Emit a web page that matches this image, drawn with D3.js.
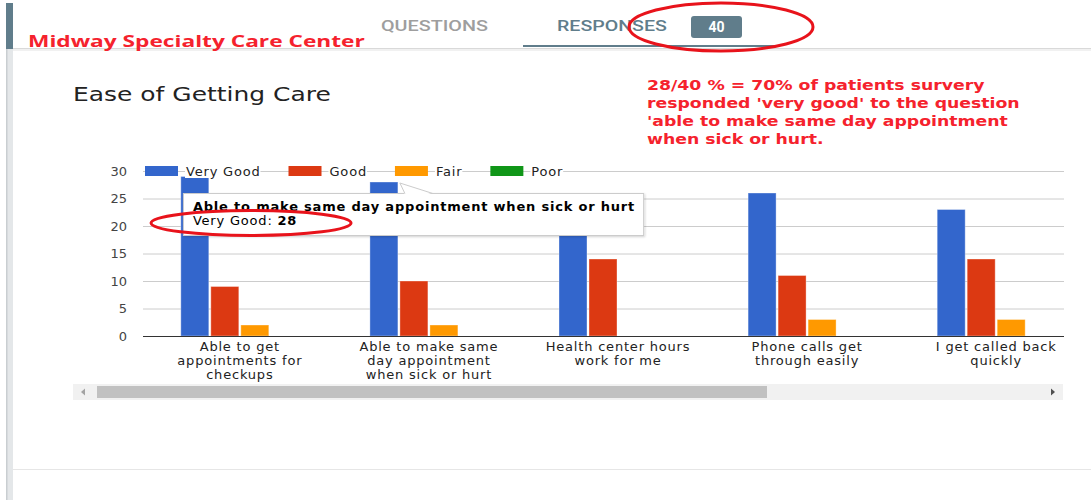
<!DOCTYPE html>
<html>
<head>
<meta charset="utf-8">
<script src="https://cdn.jsdelivr.net/npm/d3@7"></script>
<style>
  body { margin: 0; background: #fff; }
  svg { display: block; font-family: "DejaVu Sans", sans-serif; }
</style>
</head>
<body>
<div id="chart"></div>
<script>
// ---- data ----
const categories = [
  "Able to get appointments for checkups",
  "Able to make same day appointment when sick or hurt",
  "Health center hours work for me",
  "Phone calls get through easily",
  "I get called back quickly"
];
const seriesNames = ["Very Good", "Good", "Fair", "Poor"];
const veryGood = [29, 28, 26, 26, 23];
const good     = [9, 10, 14, 11, 14];
const fair     = [2, 2, 0, 3, 3];
const poor     = [0, 0, 0, 0, 0];
const yTicks = [0, 5, 10, 15, 20, 25, 30];

const chartTitle = "Ease of Getting Care";
const pageTitle = "Midway Specialty Care Center";
const tabs = ["QUESTIONS", "RESPONSES"];
const responseCount = 40;
const noteLines = [
  "28/40 % = 70% of patients survery",
  "responded 'very good' to the question",
  "'able to make same day appointment",
  "when sick or hurt."
];
const tipCategory = 1;   // hovered group
const tipSeries = 0;     // hovered series

const colors = ["#3366cc", "#dc3912", "#ff9900", "#109618"];
const values = [veryGood, good, fair, poor];

// ---- setup ----
const W = 1091, H = 500;
const svg = d3.select("#chart").append("svg")
  .attr("width", W)
  .attr("height", H);

const defs = svg.append("defs");
defs.append("filter").attr("id", "shadow")
  .attr("x", "-5%").attr("y", "-20%").attr("width", "110%").attr("height", "150%")
  .append("feDropShadow")
  .attr("dx", 1).attr("dy", 1).attr("stdDeviation", 1.2)
  .attr("flood-color", "#000").attr("flood-opacity", 0.18);

// fit a text block horizontally to a target width
function stretch(sel, x, target) {
  const w = sel.node().getBBox().width;
  sel.attr("transform", `translate(${x},0) scale(${target / w},1)`);
}

const LS = "0.8px";  // chart text is a bit wider than DejaVu

// ---- page chrome ----
svg.append("rect").attr("x", 6).attr("y", 49).attr("width", 7).attr("height", H - 49)
  .attr("fill", "#e4e7e9");
svg.append("rect").attr("x", 6).attr("y", 49).attr("width", 1.5).attr("height", H - 49)
  .attr("fill", "#c9ced1");
svg.append("rect").attr("x", 6).attr("y", 3).attr("width", 7).attr("height", 46)
  .attr("fill", "#607d8b");
svg.append("line").attr("x1", 13).attr("x2", W).attr("y1", 48.5).attr("y2", 48.5)
  .attr("stroke", "#d9d9d9");
svg.append("rect").attr("x", 13).attr("y", 49).attr("width", W - 13).attr("height", 2)
  .attr("fill", "#f1f1f1");
svg.append("line").attr("x1", 13).attr("x2", W).attr("y1", 469.5).attr("y2", 469.5)
  .attr("stroke", "#e6e6e6");

const tabG = svg.append("g").style("font-family", "Roboto, sans-serif")
  .style("font-weight", 500).style("font-size", "14px");
const q = tabG.append("g");
q.append("text").attr("y", 31).attr("fill", "#9e9e9e").text(tabs[0]);
stretch(q, 381, 107);
const r = tabG.append("g");
r.append("text").attr("y", 31).attr("fill", "#607d8b").text(tabs[1]);
stretch(r, 557, 110);
svg.append("rect").attr("x", 523).attr("y", 45).attr("width", 254).attr("height", 2)
  .attr("fill", "#607d8b");
svg.append("rect").attr("x", 691).attr("y", 16).attr("width", 51).attr("height", 22)
  .attr("rx", 3).attr("fill", "#607d8b");
svg.append("text").attr("x", 716.5).attr("y", 32).attr("text-anchor", "middle")
  .style("font-family", "Roboto, sans-serif").style("font-weight", 700)
  .style("font-size", "14px").attr("fill", "#fff").text(responseCount);

const pt = svg.append("g");
pt.append("text").attr("y", 47).attr("fill", "#f5222d")
  .style("font-family", "'Open Sans', sans-serif").style("font-weight", 700)
  .style("font-size", "16px").text(pageTitle);
stretch(pt, 28, 337);

const ct = svg.append("g");
ct.append("text").attr("y", 101).attr("fill", "#222")
  .style("font-size", "20px").text(chartTitle);
stretch(ct, 73, 258);

const note = svg.append("g");
note.selectAll("text").data(noteLines).join("text")
  .attr("y", (d, i) => 90 + i * 18)
  .attr("fill", "#f5222d")
  .style("font-weight", 700)
  .style("font-size", "14.5px")
  .text(d => d);
stretch(note, 647, 373);

// ---- scales ----
const plotLeft = 143, plotRight = 1064;
const y = d3.scaleLinear().domain([0, 30]).range([336, 171]);
const x0 = d3.scaleBand().domain(categories).range([143, 1093])
  .paddingInner(0.376).paddingOuter(0.2);
const x1 = d3.scaleBand().domain(seriesNames).range([0, x0.bandwidth()])
  .paddingInner(0.067).paddingOuter(0);

// ---- grid + y axis ----
const yAxis = svg.append("g")
  .attr("transform", `translate(${plotLeft},0)`)
  .call(d3.axisLeft(y).tickValues(yTicks).tickSize(-(plotRight - plotLeft)).tickPadding(16));
yAxis.select(".domain").remove();
yAxis.selectAll(".tick line").attr("stroke", "#cccccc");
yAxis.selectAll(".tick text")
  .attr("fill", "#444").style("font-size", "13px")
  .style("font-family", "'DejaVu Sans', sans-serif");

// ---- bars ----
const groups = svg.append("g").selectAll("g").data(categories).join("g")
  .attr("transform", d => `translate(${x0(d)},0)`);
groups.selectAll("rect")
  .data((c, ci) => seriesNames.map((s, si) => ({ s, si, v: values[si][ci] })).filter(d => d.v > 0))
  .join("rect")
  .attr("x", d => x1(d.s))
  .attr("y", d => y(d.v))
  .attr("width", x1.bandwidth())
  .attr("height", d => y(0) - y(d.v))
  .attr("fill", d => colors[d.si])
  .attr("stroke", "rgba(255,255,255,0.35)")
  .attr("stroke-width", 1);

// baseline
svg.append("line").attr("x1", plotLeft).attr("x2", plotRight)
  .attr("y1", y(0) + 0.5).attr("y2", y(0) + 0.5).attr("stroke", "#333");

// ---- category labels (wrapped) ----
function wrap(textSel, maxW) {
  textSel.each(function(d) {
    const t = d3.select(this);
    const words = d.split(" ");
    let line = [];
    let tspan = t.append("tspan").attr("x", 0).attr("dy", 0);
    words.forEach(w => {
      line.push(w);
      tspan.text(line.join(" "));
      if (tspan.node().getComputedTextLength() > maxW && line.length > 1) {
        line.pop();
        tspan.text(line.join(" "));
        line = [w];
        tspan = t.append("tspan").attr("x", 0).attr("dy", "14px").text(w);
      }
    });
  });
}
svg.append("g").selectAll("text").data(categories).join("text")
  .attr("transform", d => `translate(${x0(d) + x0.bandwidth() / 2},351)`)
  .attr("text-anchor", "middle")
  .attr("fill", "#222").style("font-size", "13px").style("letter-spacing", LS)
  .call(wrap, 160);

// ---- legend ----
const legend = svg.append("g");
let lx = 145;
seriesNames.forEach((s, i) => {
  legend.append("rect").attr("x", lx).attr("y", 166).attr("width", 33).attr("height", 10)
    .attr("fill", colors[i]);
  const bg = legend.append("rect").attr("fill", "#fff");
  const t = legend.append("text").attr("x", lx + 41).attr("y", 176)
    .attr("fill", "#222").style("font-size", "13px").style("letter-spacing", LS).text(s);
  const w = t.node().getComputedTextLength();
  bg.attr("x", lx + 40).attr("y", 164).attr("width", w + 1).attr("height", 14);
  lx = lx + 41 + w + 28;
});

// ---- tooltip ----
const ax = x0(categories[tipCategory]) + x1(seriesNames[tipSeries]) + x1.bandwidth();
const ay = y(values[tipSeries][tipCategory]);
const tipLeft = ax - 215, tipTop = ay + 11;
const tip = svg.append("g");
const tipBox = tip.append("rect").attr("fill", "#fff").attr("stroke", "#cccccc")
  .attr("filter", "url(#shadow)");
const tipTitle = tip.append("text").attr("x", tipLeft + 10).attr("y", tipTop + 18)
  .attr("fill", "#000").style("font-size", "13px").style("font-weight", 700)
  .style("letter-spacing", LS)
  .text(categories[tipCategory]);
const tipLine = tip.append("text").attr("x", tipLeft + 10).attr("y", tipTop + 32)
  .attr("fill", "#000").style("font-size", "13px").style("letter-spacing", LS);
tipLine.append("tspan").text(seriesNames[tipSeries] + ": ");
tipLine.append("tspan").style("font-weight", 700).text(values[tipSeries][tipCategory]);
const tipW = tipTitle.node().getComputedTextLength() + 18;
tipBox.attr("x", tipLeft + 0.5).attr("y", tipTop + 0.5).attr("width", tipW).attr("height", 42);
const tail = [[ax + 7, tipTop + 0.5], [ax + 2, ay + 1], [ax + 35, tipTop + 0.5]];
tip.append("polygon").attr("points", tail.map(p => p.join(",")).join(" "))
  .attr("fill", "#fff").attr("transform", "translate(0,1)");
tip.append("polyline").attr("points", tail.map(p => p.join(",")).join(" "))
  .attr("fill", "none").attr("stroke", "#cccccc");

// ---- scrollbar ----
svg.append("rect").attr("x", 73).attr("y", 384).attr("width", 990).attr("height", 16)
  .attr("fill", "#f1f1f1");
svg.append("rect").attr("x", 97).attr("y", 386).attr("width", 670).attr("height", 12)
  .attr("fill", "#c1c1c1");
svg.append("path").attr("d", "M81,392 L85,388.5 L85,395.5 Z").attr("fill", "#a3a3a3");
svg.append("path").attr("d", "M1055,392 L1051,388.5 L1051,395.5 Z").attr("fill", "#505050");

// ---- red annotations ----
const lineW = tipLine.node().getComputedTextLength();
svg.append("ellipse")
  .attr("cx", tipLeft + 10 + lineW / 2 + 6).attr("cy", tipTop + 30)
  .attr("rx", 100).attr("ry", 12.5)
  .attr("fill", "none").attr("stroke", "#e8131b").attr("stroke-width", 3);
svg.append("ellipse")
  .attr("cx", 721).attr("cy", 27).attr("rx", 92).attr("ry", 24)
  .attr("fill", "none").attr("stroke", "#e8131b").attr("stroke-width", 3);
</script>
</body>
</html>
